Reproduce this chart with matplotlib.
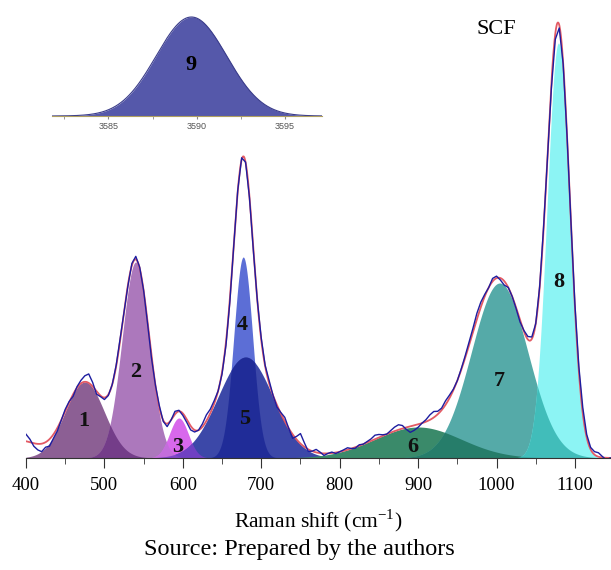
import numpy as np
import matplotlib.pyplot as plt

plt.rcParams['font.family'] = ['Liberation Serif', 'DejaVu Serif']
plt.rcParams['mathtext.fontset'] = 'custom'
plt.rcParams['mathtext.rm'] = 'Liberation Serif'

# fitted gaussian components: label, centre (cm-1), height (a.u.), sigma (cm-1)
peak_labels = ['1', '2', '3', '4', '5', '6', '7', '8']
centers = [475, 540, 595, 677, 680, 900, 1004, 1079]
heights = [76, 196, 40, 201, 101, 31, 175, 415]
sigmas = [25, 17.5, 12, 12, 35, 55, 36, 14.5]
colors = ['#8c5f94', '#ac78bc', '#d868ec', '#5c6ed6', '#3c48a8', '#3a8a6a', '#55aaa8', '#8cf4f4']
# low-wavenumber background component (not filled)
bg_center, bg_height, bg_sigma = 392, 17, 22

# overlapping pairs and their darker blend colour
overlaps = [(0, 1, '#6a3380'), (1, 2, '#c070d8'), (2, 4, '#7a40c8'),
            (3, 4, '#1c2896'), (5, 6, '#1e7560'), (6, 7, '#34b4b0')]

# label positions (x, y)
label_x = [474, 540, 594, 676, 679, 893, 1004, 1079]
label_y = [37, 86, 11, 133, 39, 11, 77, 176]

# measured spectrum: deviation from the fit, every 5 cm-1 from 400 to 1145
meas_x = np.arange(400, 1150, 5)
meas_dev = [7, 3, -3, -6, -8, -5, -7, -4, -3, 0,
            2, 1, -2, 1, 3, 6, 9, 4, -3, -1,
            -2, -1, 0, 1, 2, 0, -1, 2, 3, 1,
            0, -2, -3, 0, 2, -1, -3, 0, 3, 1,
            -2, -3, -4, -2, 0, 3, 6, 4, 3, 0,
            -2, -3, -3, -1, 1, 2, 0, -1, -2, 0,
            2, 1, 3, 0, -2, 1, 4, 0, -4, 3,
            10, 4, -2, 0, 3, 1, -2, 0, 1, -1,
            0, 1, 2, 0, -1, 1, 0, 1, 2, 4,
            3, 1, 0, 2, 4, 5, 3, -2, -6, -5,
            -3, 0, 2, 5, 6, 3, 2, 4, 3, 1,
            0, 1, 2, 3, 4, 6, 5, 2, 0, 3,
            2, -2, -4, 0, 0, -1, -2, 1, 3, 2,
            0, 1, 2, -2, -5, -6, -3, -1, 0, 2,
            3, 5, 6, 3, 2, 3, 4, 1, -2, 0]

# inset peak 9
p9_center, p9_height, p9_sigma = 3589.7, 99, 2.0


def gauss(x, c, h, s):
    return h * np.exp(-(x - c) ** 2 / (2 * s ** 2))


def fit_sum(x):
    y = gauss(x, bg_center, bg_height, bg_sigma)
    for c, h, s in zip(centers, heights, sigmas):
        y = y + gauss(x, c, h, s)
    return y


W, H = 611, 570
fig = plt.figure(figsize=(W / 100, H / 100), dpi=100)
ax = fig.add_axes([26 / W, 1 - 458 / H, 1 - 26 / W, 448 / H])

x = np.linspace(400, 1146, 1500)
comps = [gauss(x, c, h, s) for c, h, s in zip(centers, heights, sigmas)]
for g, col in zip(comps, colors):
    ax.fill_between(x, 0, g, color=col, lw=0)
for i, j, col in overlaps:
    ax.fill_between(x, 0, np.minimum(comps[i], comps[j]), color=col, lw=0, alpha=0.85)

ax.plot(x, fit_sum(x), color='#e35a64', lw=1.3, zorder=3)
ax.plot(meas_x, fit_sum(meas_x) + np.array(meas_dev), color='#1d1da0', lw=1.0, zorder=4)

for t, lx, ly in zip(peak_labels, label_x, label_y):
    ax.text(lx, ly, t, ha='center', va='center', fontsize=16, fontweight='bold', color='#111111')
ax.text(1000, 428, 'SCF', ha='center', va='center', fontsize=16)

ax.set_xlim(400, 1146)
ax.set_ylim(0, 448)
for s in ['top', 'right', 'left']:
    ax.spines[s].set_visible(False)
ax.spines['bottom'].set_color('#333333')
ax.set_yticks([])
ax.set_xticks(np.arange(400, 1101, 100))
ax.set_xticks(np.arange(450, 1146, 100), minor=True)
ax.tick_params(axis='x', which='major', length=7, labelsize=13.5, pad=7, color='#333333')
ax.tick_params(axis='x', which='minor', length=4, color='#333333')
ax.set_xlabel('Raman shift (cm$^{-1}$)', fontsize=15.5, labelpad=9)
fig.text(0.49, 1 - 550 / H, 'Source: Prepared by the authors', ha='center', va='center', fontsize=17.5)

# inset with peak 9
ins = fig.add_axes([52 / W, 1 - 116 / H, 270 / W, 102 / H])
xi = np.linspace(3581.8, 3597.1, 400)
ins.fill_between(xi, 0, gauss(xi, p9_center, p9_height, p9_sigma), color='#5558aa', lw=0)
ins.plot(xi, gauss(xi, p9_center, p9_height, p9_sigma), color='#3a3c8a', lw=0.8)
ins.text(p9_center, 51, '9', ha='center', va='center', fontsize=16, fontweight='bold')
ins.set_xlim(3581.8, 3597.1)
ins.set_ylim(0, 102)
ins.patch.set_alpha(0)
for s in ['top', 'right', 'left']:
    ins.spines[s].set_visible(False)
ins.spines['bottom'].set_color('#b0a060')
ins.spines['bottom'].set_linewidth(0.8)
ins.set_yticks([])
ins.set_xticks([3585, 3590, 3595])
ins.set_xticks([3582.5, 3587.5, 3592.5], minor=True)
ins.tick_params(axis='x', which='both', length=2, labelsize=6.5, pad=2, color='#888888', labelcolor='#555555')
for lab in ins.get_xticklabels():
    lab.set_family('Liberation Sans')

fig.savefig('out.png', dpi=100)
